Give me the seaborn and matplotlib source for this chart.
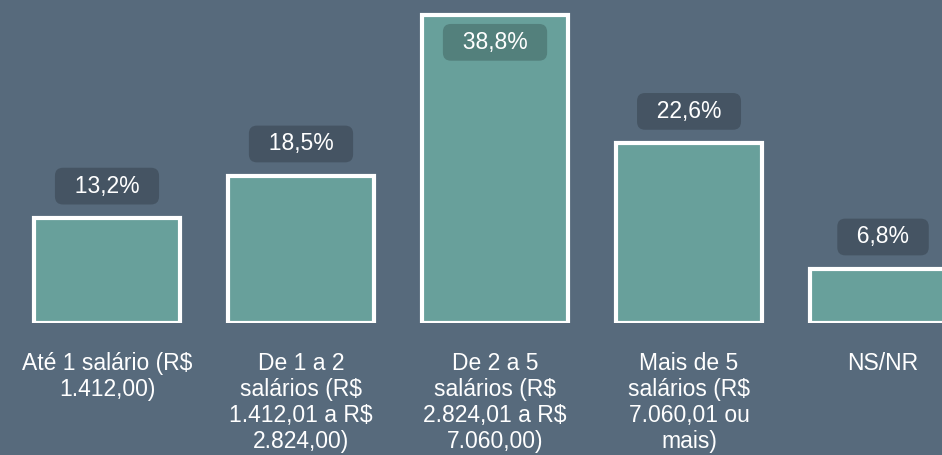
import matplotlib
matplotlib.use("Agg")
import matplotlib.pyplot as plt
import seaborn as sns

# faixas de renda e percentuais
categories = [
    "Até 1 salário (R$\n1.412,00)",
    "De 1 a 2\nsalários (R$\n1.412,01 a R$\n2.824,00)",
    "De 2 a 5\nsalários (R$\n2.824,01 a R$\n7.060,00)",
    "Mais de 5\nsalários (R$\n7.060,01 ou\nmais)",
    "NS/NR",
]
values = [13.2, 18.5, 38.8, 22.6, 6.8]
value_labels = ["13,2%", "18,5%", "38,8%", "22,6%", "6,8%"]

BG = "#576a7c"
BAR = "#68a09b"

sns.set_theme(style="white")
plt.rcParams['font.family'] = ['Liberation Sans', 'DejaVu Sans']

fig = plt.figure(figsize=(9.42, 4.55), dpi=100, facecolor=BG)
ax = fig.add_axes([0, 132 / 455, 1, 323 / 455])
ax.set_facecolor(BG)

sns.barplot(x=categories, y=values, color=BAR, saturation=1,
            edgecolor="white", linewidth=3, width=0.753, ax=ax)

ax.set_xlim(-0.5515, 4.304)
ax.set_ylim(0, 40.63)

# rótulos de valor em caixas arredondadas
for i, (v, lab) in enumerate(zip(values, value_labels)):
    inside = v + 5 > ax.get_ylim()[1]
    dy = -20 if inside else 23
    ax.annotate("  " + lab + "  ", xy=(i, v), xytext=(0, dy),
                textcoords="offset points", ha="center", va="center",
                color="white", fontsize=16.5,
                bbox=dict(boxstyle="round,pad=0.3,rounding_size=0.35",
                          fc=(0, 0, 0, 0.2), ec="none"))

ax.tick_params(axis="x", length=0, pad=21, labelcolor="white",
               labelsize=16.5)
for t in ax.get_xticklabels():
    t.set_linespacing(1.16)
ax.set_yticks([])
ax.set_xlabel("")
ax.set_ylabel("")
for s in ax.spines.values():
    s.set_visible(False)

fig.savefig("out.png", dpi=100, facecolor=BG)
